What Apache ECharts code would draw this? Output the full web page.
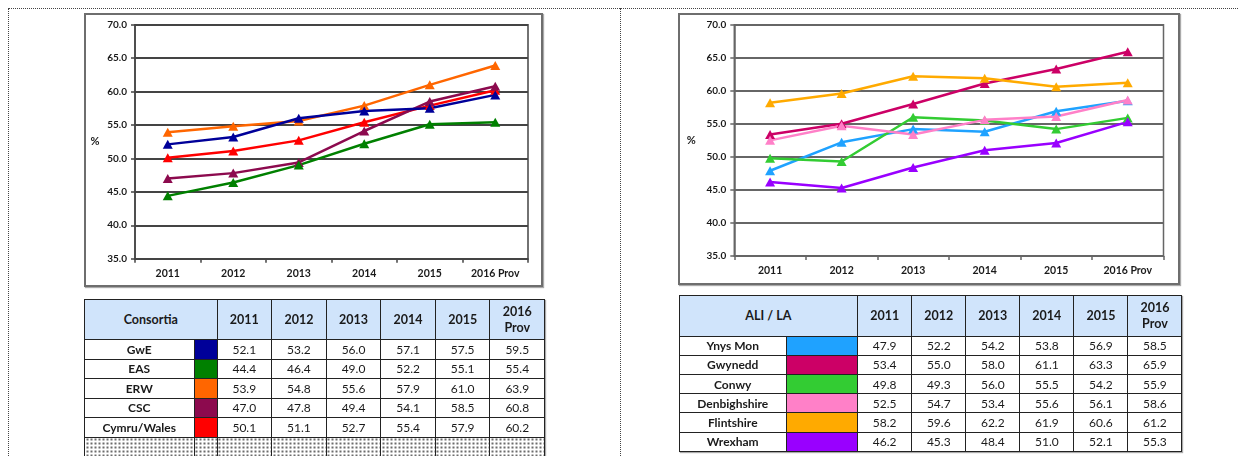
<!DOCTYPE html>
<html><head><meta charset="utf-8">
<script src="https://cdn.jsdelivr.net/npm/echarts@6/dist/echarts.min.js"></script>
<style>
html,body{margin:0;padding:0;background:#fff;}
#page{position:relative;width:1238px;height:456px;overflow:hidden;font-family:Lato,'Open Sans',sans-serif;}
.dot-h{position:absolute;border-top:1px dotted #444;height:0;}
.dot-v{position:absolute;border-left:1px dotted #444;width:0;}
.box{position:absolute;border:2px solid #6e6e6e;box-sizing:border-box;box-shadow:1px 1px 1px #aaa;}
#chart{position:absolute;left:0;top:0;width:1238px;height:300px;}
table{position:absolute;border-collapse:collapse;table-layout:fixed;font-size:12px;color:#1a1a1a;box-shadow:1px 1px 1px #aaa;}
td,th{border:1.5px solid #222;padding:0;text-align:center;overflow:hidden;white-space:nowrap;}
th{background:#d0e4fb;font-weight:700;line-height:16px;font-size:12.5px;}
td.name{font-weight:700;}
td.dots{background-color:#fff;background-image:radial-gradient(#666 0.7px, transparent 0.9px);background-size:4px 4px;}
</style>
</head>
<body>
<div id="page">
  <div class="dot-h" style="left:8px;top:8px;width:1230px;"></div>
  <div class="dot-v" style="left:8px;top:8px;height:448px;"></div>
  <div class="dot-v" style="left:620px;top:8px;height:448px;"></div>
  <div class="box" style="left:84px;top:13px;width:459px;height:274px;"></div>
  <div class="box" style="left:678px;top:13px;width:502px;height:272px;"></div>
  <div id="chart"></div>
  <table id="t1"></table>
  <table id="t2"></table>
</div>
<script>
// ---- data ----
const categories = ['2011', '2012', '2013', '2014', '2015', '2016 Prov'];

const consortiaNames = ['GwE', 'EAS', 'ERW', 'CSC', 'Cymru/Wales'];
const consortiaColors = ['#000099', '#008000', '#ff6600', '#8c0a4e', '#ff0000'];
const gweValues   = [52.1, 53.2, 56.0, 57.1, 57.5, 59.5];
const easValues   = [44.4, 46.4, 49.0, 52.2, 55.1, 55.4];
const erwValues   = [53.9, 54.8, 55.6, 57.9, 61.0, 63.9];
const cscValues   = [47.0, 47.8, 49.4, 54.1, 58.5, 60.8];
const walesValues = [50.1, 51.1, 52.7, 55.4, 57.9, 60.2];

const laNames = ['Ynys Mon', 'Gwynedd', 'Conwy', 'Denbighshire', 'Flintshire', 'Wrexham'];
const laColors = ['#1fa2ff', '#cc0066', '#33cc33', '#ff80c8', '#ffaa00', '#9900ff'];
const ynysMonValues     = [47.9, 52.2, 54.2, 53.8, 56.9, 58.5];
const gwyneddValues     = [53.4, 55.0, 58.0, 61.1, 63.3, 65.9];
const conwyValues       = [49.8, 49.3, 56.0, 55.5, 54.2, 55.9];
const denbighshireValues= [52.5, 54.7, 53.4, 55.6, 56.1, 58.6];
const flintshireValues  = [58.2, 59.6, 62.2, 61.9, 60.6, 61.2];
const wrexhamValues     = [46.2, 45.3, 48.4, 51.0, 52.1, 55.3];

const yTicks = { min: 35, max: 70, step: 5 };

const consortiaSeries = [gweValues, easValues, erwValues, cscValues, walesValues];
const laSeries = [ynysMonValues, gwyneddValues, conwyValues, denbighshireValues, flintshireValues, wrexhamValues];

// ---- chart ----
const chart = echarts.init(document.getElementById('chart'), null, { renderer: 'canvas' });
const fontFamily = 'Lato, "Open Sans", sans-serif';

function xAxisFor(gi, grid) {
  return {
    type: 'category', gridIndex: gi, data: categories, boundaryGap: true,
    axisLine: { show: true, lineStyle: { color: grid, width: 1.5 } },
    axisTick: { show: true, length: 4, lineStyle: { color: grid, width: 1.5 } },
    axisLabel: { interval: 0, margin: 9, fontSize: 10.5, fontWeight: 'bold', color: '#1a1a1a', fontFamily }
  };
}
function yAxisFor(gi, grid, gap) {
  return {
    type: 'value', gridIndex: gi, min: yTicks.min, max: yTicks.max, interval: yTicks.step,
    name: '%', nameLocation: 'middle', nameRotate: 0, nameGap: gap,
    nameTextStyle: { fontSize: 11, fontWeight: 'bold', color: '#1a1a1a', align: 'center', verticalAlign: 'middle', fontFamily },
    axisLine: { show: true, lineStyle: { color: grid, width: 1.5 } },
    axisTick: { show: true, length: 4, lineStyle: { color: grid, width: 1.5 } },
    axisLabel: { margin: 8, fontSize: 10, fontWeight: 'bold', color: '#1a1a1a', fontFamily, formatter: v => v.toFixed(1) },
    splitLine: { show: true, lineStyle: { color: grid, width: 2 } }
  };
}

const drawOrderLeft = [4, 2, 3, 1, 0];
const series = [];
drawOrderLeft.forEach(i => {
  series.push({
    name: consortiaNames[i], type: 'line', xAxisIndex: 0, yAxisIndex: 0,
    data: consortiaSeries[i], symbol: 'triangle', symbolSize: [10, 9],
    lineStyle: { width: 2.5, color: consortiaColors[i] },
    itemStyle: { color: consortiaColors[i] }
  });
});
laNames.forEach((n, i) => {
  series.push({
    name: n, type: 'line', xAxisIndex: 1, yAxisIndex: 1,
    data: laSeries[i], symbol: 'triangle', symbolSize: [10, 9],
    lineStyle: { width: 2.5, color: laColors[i] },
    itemStyle: { color: laColors[i] }
  });
});

chart.setOption({
  animation: false,
  backgroundColor: 'transparent',
  grid: [
    { left: 135, top: 24.7, width: 393, height: 234, show: true, borderColor: '#444', borderWidth: 1.5, containLabel: false },
    { left: 734.3, top: 24.7, width: 429.2, height: 231.3, show: true, borderColor: '#666', borderWidth: 1.5, containLabel: false }
  ],
  xAxis: [xAxisFor(0, '#444'), xAxisFor(1, '#666')],
  yAxis: [yAxisFor(0, '#444', 40), yAxisFor(1, '#666', 43)],
  series
});

// ---- tables ----
function buildTable(el, opts) {
  const t = document.getElementById(el);
  t.style.left = opts.left + 'px';
  t.style.top = opts.top + 'px';
  const widths = [opts.nameW, opts.swatchW].concat(categories.map(() => opts.yearW));
  t.style.width = widths.reduce((a, b) => a + b, 0) + 'px';
  let html = '<colgroup>' + widths.map(w => `<col style="width:${w}px">`).join('') + '</colgroup>';
  html += `<tr style="height:${opts.headH}px"><th colspan="2">${opts.title}</th>` +
    categories.map(c => `<th>${c.split(' ').join('<br>')}</th>`).join('') + '</tr>';
  opts.names.forEach((n, i) => {
    html += `<tr style="height:${opts.rowH}px"><td class="name">${n}</td><td style="background:${opts.colors[i]}"></td>` +
      opts.values[i].map(v => `<td>${v.toFixed(1)}</td>`).join('') + '</tr>';
  });
  if (opts.dotRow) {
    html += `<tr style="height:${opts.rowH}px">` + widths.map(() => '<td class="dots"></td>').join('') + '</tr>';
  }
  t.innerHTML = html;
}
buildTable('t1', { left: 84, top: 299, nameW: 109.5, swatchW: 23, yearW: 54.6, headH: 40, rowH: 19.5,
  title: 'Consortia', names: consortiaNames, colors: consortiaColors, values: consortiaSeries, dotRow: true });
buildTable('t2', { left: 678.5, top: 294.7, nameW: 107.5, swatchW: 71.2, yearW: 54.05, headH: 41, rowH: 19.2,
  title: 'ALI / LA', names: laNames, colors: laColors, values: laSeries, dotRow: false });
</script>
</body></html>
